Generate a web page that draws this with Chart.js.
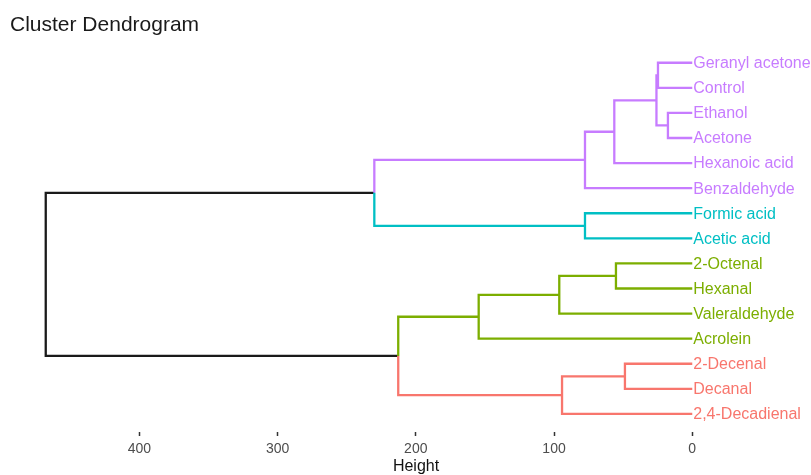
<!DOCTYPE html>
<html>
<head>
<meta charset="utf-8">
<script src="https://cdn.jsdelivr.net/npm/chart.js@4.4.1/dist/chart.umd.min.js"></script>
<style>
  html, body { margin: 0; padding: 0; background: #fff; }
  #wrap { width: 811px; height: 475px; }
</style>
</head>
<body>
<div id="wrap"><canvas id="dendro" width="811" height="475"></canvas></div>
<script>
// leaves, top to bottom
const leaves = ['Geranyl acetone','Control','Ethanol','Acetone','Hexanoic acid','Benzaldehyde',
                'Formic acid','Acetic acid','2-Octenal','Hexanal','Valeraldehyde','Acrolein',
                '2-Decenal','Decanal','2,4-Decadienal'];
const leafCluster = [0,0,0,0,0,0,1,1,2,2,2,2,3,3,3];
const clusterColors = ['#C77CFF','#00BFC4','#7CAE00','#F8766D'];

// hclust-style merges: negative = leaf (1-based), positive = earlier merge (1-based); last one is the root
const mergeLeft   = [-3, -1, 2, -13, -9, 3, 6, -7, 4, 5, 10, 11, 7, 13];
const mergeRight  = [-4, -2, 1, -14, -10, -5, -6, -8, -15, -11, -12, 9, 8, 12];
const mergeHeight = [17.6, 24.8, 25.9, 48.7, 55.2, 56.4, 77.6, 77.6, 94.2, 96.2, 154.5, 212.7, 230, 467.7];

const heightTicks = [0, 100, 200, 300, 400];

const nodes = [];
function node(ref) {
  if (ref < 0) {
    const i = -ref - 1;
    return { h: 0, y: i, c: leafCluster[i] };
  }
  return nodes[ref - 1];
}
mergeLeft.forEach((l, i) => {
  const a = node(l), b = node(mergeRight[i]);
  nodes.push({ h: mergeHeight[i], y: (a.y + b.y) / 2, c: a.c === b.c ? a.c : -1, kids: [a, b] });
});

const colorOf = c => c >= 0 ? clusterColors[c] : '#1a1a1a';

// one path per merge: child A -> corner -> mid -> corner -> child B, each half in its child's colour
const datasets = nodes.map(n => {
  const [a, b] = n.kids;
  const ca = colorOf(a.c), cb = colorOf(b.c);
  return {
    data: [{ x: a.h, y: a.y }, { x: n.h, y: a.y }, { x: n.h, y: n.y }, { x: n.h, y: b.y }, { x: b.h, y: b.y }],
    borderColor: ca,
    segment: { borderColor: s => s.p0DataIndex < 2 ? ca : cb },
    borderWidth: 2.3, pointRadius: 0, tension: 0,
    borderJoinStyle: 'miter', borderCapStyle: 'butt', fill: false
  };
});

const font = "'Liberation Sans', Arial, Helvetica, sans-serif";

new Chart(document.getElementById('dendro'), {
  type: 'line',
  data: { datasets },
  options: {
    responsive: false, animation: false,
    layout: { padding: { left: 10, right: 0, top: 0, bottom: 0 } },
    plugins: {
      legend: { display: false },
      tooltip: { enabled: false },
      title: {
        display: true, text: 'Cluster Dendrogram', align: 'start',
        color: '#1a1a1a', font: { family: font, size: 21, weight: 'normal' },
        padding: { top: 13, bottom: 12 }
      }
    },
    scales: {
      x: {
        type: 'linear', reverse: true, min: -85.9, max: 485.6,
        afterBuildTicks: s => { s.ticks = heightTicks.map(v => ({ value: v })); },
        afterFit: s => { s.height = 43; },
        ticks: { color: '#4d4d4d', font: { family: font, size: 14 }, padding: 5, maxRotation: 0 },
        grid: { display: true, drawOnChartArea: false, drawTicks: true, tickLength: 4, tickColor: '#333', tickWidth: 1.5 },
        border: { display: false },
        title: { display: true, text: 'Height', color: '#111', font: { family: font, size: 16 }, padding: { top: 1, bottom: -1.5 } }
      },
      y: {
        type: 'linear', reverse: true, min: -0.5, max: 14.72,
        afterFit: s => { s.width = 11; },
        ticks: { display: false }, grid: { display: false }, border: { display: false }
      }
    }
  },
  plugins: [{
    id: 'leafLabels',
    afterDatasetsDraw(chart) {
      const ctx = chart.ctx;
      const xs = chart.scales.x, ys = chart.scales.y;
      ctx.save();
      ctx.font = '16px ' + font;
      ctx.textAlign = 'left'; ctx.textBaseline = 'middle';
      leaves.forEach((name, i) => {
        ctx.fillStyle = clusterColors[leafCluster[i]];
        ctx.fillText(name, xs.getPixelForValue(0) + 1, ys.getPixelForValue(i) + 1);
      });
      ctx.restore();
    }
  }]
});
</script>
</body>
</html>
